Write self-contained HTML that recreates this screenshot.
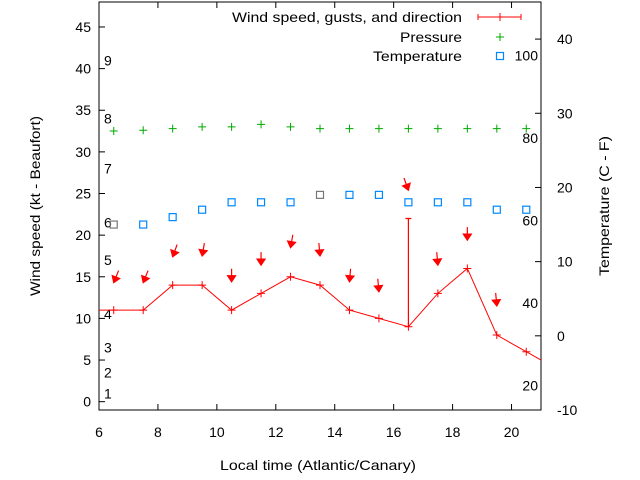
<!DOCTYPE html>
<html><head><meta charset="utf-8"><style>
body{margin:0;background:#fff}
svg{display:block;font-family:"Liberation Sans",sans-serif;font-size:14px}
</style></head><body>
<svg id="c" width="640" height="480">
<rect x="0" y="0" width="640" height="480" fill="#fff"/>
</svg>
<script>
const hours=[6.5,7.5,8.5,9.5,10.5,11.5,12.5,13.5,14.5,15.5,16.5,17.5,18.5,19.5,20.5];
const windSpeed=[11,11,14,14,11,13,15,14,11,10,9,13,16,8,6];
const gustHours=[16.5];
const gustValues=[22];
const pressure=[32.5,32.6,32.8,33,33,33.3,33,32.8,32.8,32.8,32.8,32.8,32.8,32.8,32.8];
const temperature=[15,15,16,17,18,18,18,19,19,19,18,18,18,17,17];
const arrowHours=[6.5,7.5,8.5,9.5,10.5,11.5,12.5,13.5,14.5,15.5,16.5,17.5,18.5,19.5];
const arrowLevel=[14.3,14.3,17.4,17.5,14.4,16.4,18.5,17.5,14.4,13.2,25.4,16.4,19.4,11.5];
const arrowDir=[22,22,20,10,0,0,10,355,5,355,340,355,0,355];
const xTicks=[6,8,10,12,14,16,18,20];
const yTicks=[0,5,10,15,20,25,30,35,40,45];
const tTicks=[-10,0,10,20,30,40];
const beaufortLabels=["1","2","3","4","5","6","7","8","9"];
const beaufortKt=[1,3.5,6.5,10.5,17,21.5,28,34,41];
const fLabels=["100","80","60","40","20"];
const fValues=[100,80,60,40,20];

const L=99,R=541,T=2,B=410;
const X=h=>L+(h-6)/(21-6)*(R-L);
const Y=v=>B-(v+1)/(49)*(B-T);
const TY=t=>B-(t+10)/55*(B-T);
const FY=f=>TY((f-32)*5/9);
const svg=document.getElementById('c');
const NS='http://www.w3.org/2000/svg';
function mk(tag,a,parent){const e=document.createElementNS(NS,tag);for(const k in a)e.setAttribute(k,a[k]);(parent||svg).appendChild(e);return e;}
function txt(s,x,y,anchor,len){const e=mk('text',{x:x,y:y,'text-anchor':anchor||'start',fill:'#000'});if(len){e.setAttribute('textLength',len);e.setAttribute('lengthAdjust','spacingAndGlyphs');}e.textContent=s;return e;}

let e=mk('rect',{x:L,y:T,width:R-L,height:B-T,fill:'none',stroke:'#000','stroke-width':1});



xTicks.forEach(h=>{const x=X(h);mk('line',{x1:x,y1:B,x2:x,y2:B-6,stroke:'#000'});mk('line',{x1:x,y1:T,x2:x,y2:T+6,stroke:'#000'});
 const t=txt(String(h),x,437,'middle');});
yTicks.forEach(v=>{const y=Y(v);mk('line',{x1:L,y1:y,x2:L+6,y2:y,stroke:'#000'});
 const t=txt(String(v),91,y+5,'end');});
tTicks.forEach(v=>{const y=TY(v);mk('line',{x1:R,y1:y,x2:R-6,y2:y,stroke:'#000'});
 const t=txt(String(v),557,y+5,'start');});
beaufortLabels.forEach((s,i)=>{const t=txt(s,104,Y(beaufortKt[i])+5,'start');});
fLabels.forEach((s,i)=>{const t=txt(s,538,FY(fValues[i])+5,'end');});

e=txt('Local time (Atlantic/Canary)',318,470,'middle',196);


e=txt('Wind speed (kt - Beaufort)',0,0,'middle',180);e.setAttribute('transform','translate(40,206) rotate(-90)');


e=txt('Temperature (C - F)',0,0,'middle',140);e.setAttribute('transform','translate(609,206) rotate(-90)');



const g=mk('g',{});


const cp=mk('clipPath',{id:'cp'});mk('rect',{x:L,y:T,width:R-L,height:B-T},cp);
g.setAttribute('clip-path','url(#cp)');

let pts=[[X(6),Y(windSpeed[0])]].concat(hours.map((h,i)=>[X(h),Y(windSpeed[i])]));
pts.push([X(21.5),Y(windSpeed[windSpeed.length-1]-2)]);
e=mk('polyline',{points:pts.map(p=>p.join(',')).join(' '),fill:'none',stroke:'#f00','stroke-width':1},g);


hours.forEach((h,i)=>{const x=X(h),y=Y(windSpeed[i]);
 const m=mk('path',{d:`M${x-4},${y}h8M${x},${y-4}v8`,stroke:'#f00','stroke-width':1},g);
 
 });
gustHours.forEach((h,i)=>{const x=X(h),yi=hours.indexOf(h),y0=Y(windSpeed[yi]),y1=Y(gustValues[i]);
 const m=mk('path',{d:`M${x},${y0}V${y1}M${x-3},${y1}h6`,stroke:'#f00','stroke-width':1.2},g);
 
 });
arrowHours.forEach((h,i)=>{const hx=X(h),hy=Y(arrowLevel[i]);const a=arrowDir[i]*Math.PI/180;
 const ux=Math.sin(a),uy=-Math.cos(a);const tx=hx+ux*13,ty=hy+uy*13;
 const px=-uy,py=ux;const bx=hx+ux*6,by=hy+uy*6;
 const m=mk('path',{d:`M${tx},${ty}L${hx},${hy}M${hx},${hy}L${bx+px*4},${by+py*4}L${bx-px*4},${by-py*4}Z`,stroke:'#f00',fill:'#f00','stroke-width':1.2},g);
 
 });
hours.forEach((h,i)=>{const x=X(h),y=Y(pressure[i]);
 const m=mk('path',{d:`M${x-4},${y}h8M${x},${y-4}v8`,stroke:'#0a0','stroke-width':1},g);
 
 });
hours.forEach((h,i)=>{const x=X(h),y=TY(temperature[i]);
 const c=(i==0||i==7)?'#777':'#08f';
 const m=mk('rect',{x:x-3.5,y:y-3.5,width:7,height:7,fill:'none',stroke:c,'stroke-width':1.2},g);
 
 });

const lg=mk('g',{});


e=txt('Wind speed, gusts, and direction',462,22,'end',230);lg.appendChild(e);


e=mk('path',{d:'M478,17H521M478,14v6M521,14v6M500,13v8',stroke:'#f00','stroke-width':1},lg);


e=txt('Pressure',462,42,'end',62);lg.appendChild(e);


e=mk('path',{d:'M496,37h8M500,33v8',stroke:'#0a0','stroke-width':1},lg);


e=txt('Temperature',462,61,'end',89);lg.appendChild(e);


e=mk('rect',{x:496.5,y:52.5,width:7,height:7,fill:'none',stroke:'#08f','stroke-width':1.2},lg);


</script>
</body></html>
